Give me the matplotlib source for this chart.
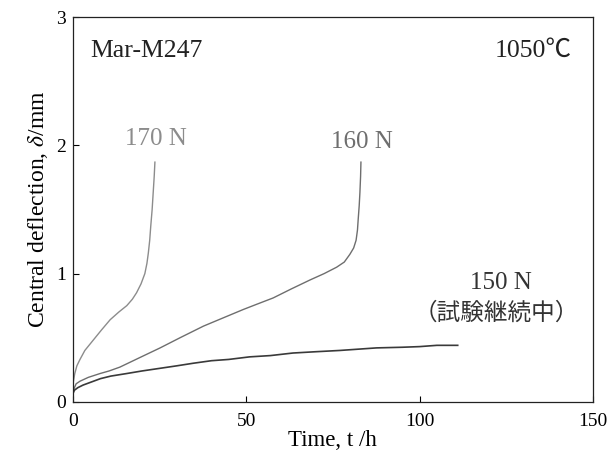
import matplotlib

matplotlib.use("Agg")
import matplotlib.pyplot as plt

# 170 N, 160 N: ruptured; 150 N: test still running
t_170 = [0.0, 0.2, 0.6, 1.2, 2.1, 3.5, 5.9, 8.3, 10.8, 13.3, 15.6, 17.2, 18.4,
         19.7, 20.8, 21.4, 21.8, 22.2, 22.5, 22.9, 23.2, 23.5, 23.7]
d_170 = [0.08, 0.16, 0.22, 0.28, 0.33, 0.40, 0.48, 0.56, 0.64, 0.70, 0.75, 0.80, 0.85,
         0.92, 1.00, 1.08, 1.16, 1.26, 1.37, 1.50, 1.63, 1.76, 1.87]

t_160 = [0.0, 0.5, 1.0, 2.1, 4.5, 7.9, 10.5, 13.6, 19.0, 25.2, 31.0, 37.7, 43.0,
         49.2, 53.0, 57.8, 63.0, 68.4, 72.5, 76.1, 78.3, 79.9, 81.0, 81.7, 82.1,
         82.3, 82.6, 82.8, 83.0, 83.1]
d_160 = [0.07, 0.11, 0.14, 0.16, 0.19, 0.22, 0.24, 0.27, 0.34, 0.42, 0.50, 0.59, 0.65,
         0.72, 0.76, 0.81, 0.88, 0.95, 1.00, 1.05, 1.09, 1.15, 1.20, 1.26, 1.34,
         1.42, 1.53, 1.63, 1.76, 1.87]

t_150 = [0.0, 0.5, 1.5, 3.0, 5.0, 8.0, 11.0, 15.6, 20.0, 25.0, 30.0, 34.7, 40.0,
         45.0, 51.0, 57.0, 63.5, 70.0, 77.0, 87.6, 95.0, 100.0, 105.0, 111.0]
d_150 = [0.06, 0.09, 0.11, 0.13, 0.15, 0.18, 0.20, 0.22, 0.24, 0.26, 0.28, 0.30, 0.32,
         0.33, 0.35, 0.36, 0.38, 0.39, 0.40, 0.42, 0.425, 0.43, 0.44, 0.44]

x_ticks = [0, 50, 100, 150]
y_ticks = [0, 1, 2, 3]

plt.rcParams["font.family"] = ["Liberation Serif", "Noto Sans CJK JP"]
plt.rcParams["mathtext.fontset"] = "stix"

fig = plt.figure(figsize=(6.11, 4.57), dpi=100)
ax = fig.add_axes([0.119, 0.121, 0.8515, 0.841])

ax.plot(t_170, d_170, color="#8c8c8c", lw=1.0)
ax.plot(t_160, d_160, color="#6e6e6e", lw=1.0)
ax.plot(t_150, d_150, color="#3a3a3a", lw=1.2)

ax.set_xlim(0, 150)
ax.set_ylim(0, 3)
ax.set_xticks(x_ticks)
ax.set_yticks(y_ticks)
ax.tick_params(direction="in", length=4, width=0.8, labelsize=14)
ax.tick_params(axis="x", pad=8)
ax.tick_params(axis="y", pad=5)
for spine in ax.spines.values():
    spine.set_linewidth(0.9)
    spine.set_color("#222222")

ax.set_xlabel("Time, t /h", fontsize=16.5, labelpad=0)
ax.set_ylabel(r"Central deflection, $\delta$/mm", fontsize=17, labelpad=4)

ax.text(5, 2.74, "Mar-M247", fontsize=18.5, ha="left", va="center", color="#222222")
ax.text(144, 2.74, "1050℃", fontsize=18.5, ha="right", va="center",
        color="#222222", family=["Liberation Serif", "Noto Sans CJK JP"])
ax.text(23.9, 2.05, "170 N", fontsize=18, ha="center", va="center", color="#8c8c8c")
ax.text(83.5, 2.03, "160 N", fontsize=18, ha="center", va="center", color="#6e6e6e")
ax.text(123.5, 0.93, "150 N", fontsize=18, ha="center", va="center", color="#333333")
ax.text(122, 0.69, "（試験継続中）", fontsize=17, ha="center", va="center",
        color="#333333", family=["Noto Sans CJK JP"])

fig.savefig("out.png", dpi=100)
